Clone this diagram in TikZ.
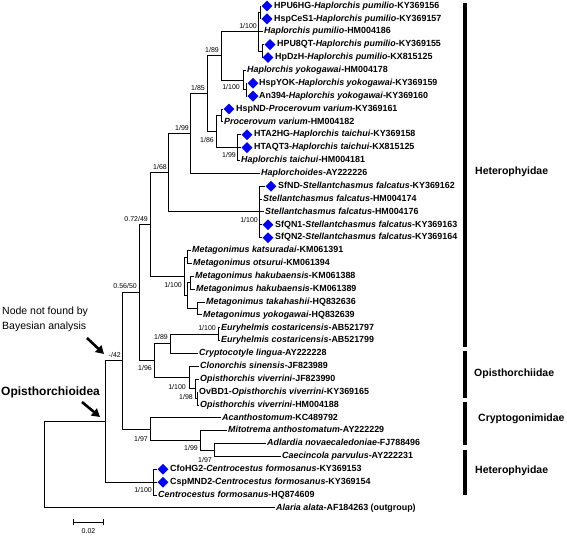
\documentclass[tikz,border=0pt]{standalone}
\usepackage{fontspec}
\setmainfont{Liberation Sans}
\usetikzlibrary{arrows.meta,shapes.geometric}

\begin{document}
\begin{tikzpicture}[
      x=1pt,y=-1pt,
      branch/.style={draw=black,line width=0.9pt},
      leaf/.style={
         anchor=west,
         inner sep=1pt,
         text height=6.4pt,
         text depth=1.9pt,
         font=\bfseries\fontsize{8.9}{10}\selectfont},
      mk/.style={
         diamond,
         fill=blue,
         inner sep=0pt,
         minimum size=11pt},
      supp/.style={
         anchor=east,
         inner sep=0pt,
         font=\fontsize{7}{8}\selectfont},
      clade/.style={
         anchor=west,
         inner sep=0pt,
         font=\bfseries\fontsize{10.5}{12}\selectfont},
      cladebar/.style={line width=4pt},
      bigarrow/.style={line width=2.6pt,-{Triangle[length=8pt,width=9pt]}}
      ]
      \useasboundingbox (0,0) rectangle (567,539);

      % internal nodes of the tree
      \coordinate (root) at (44,464.7);
      \coordinate (opis) at (105,421.5);
      \coordinate (n42) at (122,360.9);
      \coordinate (n5650) at (139,292.6);
      \coordinate (n7249) at (150,224.5);
      \coordinate (n168) at (168,172.7);
      \coordinate (n199) at (190,133.5);
      \coordinate (n185) at (207,93.7);
      \coordinate (n189) at (221,55.9);
      \coordinate (pum) at (258,31.7);
      \coordinate (puma) at (260,12.4);
      \coordinate (pumb) at (262,51.0);
      \coordinate (yok) at (243,80.0);
      \coordinate (yokb) at (246,89.7);
      \coordinate (n186) at (216,131.5);
      \coordinate (proc) at (221,115.4);
      \coordinate (tai) at (237,147.6);
      \coordinate (stel) at (259,211.9);
      \coordinate (meta) at (184,276.3);
      \coordinate (metako) at (187,257.0);
      \coordinate (metac) at (187,295.6);
      \coordinate (metah) at (190,282.7);
      \coordinate (metaty) at (197,308.4);
      \coordinate (n196) at (154,360.7);
      \coordinate (n189b) at (170,343.8);
      \coordinate (eury) at (218,334.2);
      \coordinate (opi) at (189,377.6);
      \coordinate (opisv) at (195,388.9);
      \coordinate (opisvb) at (197,398.5);
      \coordinate (n197) at (150,429.1);
      \coordinate (n199c) at (200,440.4);
      \coordinate (n197b) at (214,450.0);
      \coordinate (cent) at (153,482.2);

      % leaves
      \node[mk] (mkhpu6hg) at (267,6) {};
      \node[leaf] (hpu6hg) at (273,6) {HPU6HG-\textit{Haplorchis pumilio}-KY369156};
      \node[mk] (mkhspces1) at (267,18.9) {};
      \node[leaf] (hspces1) at (273,18.9) {HspCeS1-\textit{Haplorchis pumilio}-KY369157};
      \node[leaf] (hpum) at (263,31.7) {\textit{Haplorchis pumilio}-HM004186};
      \node[mk] (mkhpu8qt) at (270,44.6) {};
      \node[leaf] (hpu8qt) at (276,44.6) {HPU8QT-\textit{Haplorchis pumilio}-KY369155};
      \node[mk] (mkhpdzh) at (268,57.5) {};
      \node[leaf] (hpdzh) at (274,57.5) {HpDzH-\textit{Haplorchis pumilio}-KX815125};
      \node[leaf] (hyok) at (246,70.4) {\textit{Haplorchis yokogawai}-HM004178};
      \node[mk] (mkhspyok) at (253,83.2) {};
      \node[leaf] (hspyok) at (258,83.2) {HspYOK-\textit{Haplorchis yokogawai}-KY369159};
      \node[mk] (mkan394) at (253,96.1) {};
      \node[leaf] (an394) at (258,96.1) {An394-\textit{Haplorchis yokogawai}-KY369160};
      \node[mk] (mkhspnd) at (229,109) {};
      \node[leaf] (hspnd) at (235,109) {HspND-\textit{Procerovum varium}-KY369161};
      \node[leaf] (pvar) at (223,121.8) {\textit{Procerovum varium}-HM004182};
      \node[mk] (mkhta2hg) at (247,134.7) {};
      \node[leaf] (hta2hg) at (253,134.7) {HTA2HG-\textit{Haplorchis taichui}-KY369158};
      \node[mk] (mkhtaqt3) at (247,147.6) {};
      \node[leaf] (htaqt3) at (253,147.6) {HTAQT3-\textit{Haplorchis taichui}-KX815125};
      \node[leaf] (htai) at (240,160.4) {\textit{Haplorchis taichui}-HM004181};
      \node[leaf] (hoides) at (260,173.3) {\textit{Haplorchoides}-AY222226};
      \node[mk] (mksfnd) at (271,186.2) {};
      \node[leaf] (sfnd) at (277,186.2) {SfND-\textit{Stellantchasmus falcatus}-KY369162};
      \node[leaf] (sf174) at (262,199.1) {\textit{Stellantchasmus falcatus}-HM004174};
      \node[leaf] (sf176) at (264,211.9) {\textit{Stellantchasmus falcatus}-HM004176};
      \node[mk] (mksfqn1) at (268,224.8) {};
      \node[leaf] (sfqn1) at (274,224.8) {SfQN1-\textit{Stellantchasmus falcatus}-KY369163};
      \node[mk] (mksfqn2) at (268,237.7) {};
      \node[leaf] (sfqn2) at (274,237.7) {SfQN2-\textit{Stellantchasmus falcatus}-KY369164};
      \node[leaf] (mkat) at (191,250.5) {\textit{Metagonimus katsuradai}-KM061391};
      \node[leaf] (mots) at (192,263.4) {\textit{Metagonimus otsurui}-KM061394};
      \node[leaf] (mhak1) at (194,276.3) {\textit{Metagonimus hakubaensis}-KM061388};
      \node[leaf] (mhak2) at (195,289.1) {\textit{Metagonimus hakubaensis}-KM061389};
      \node[leaf] (mtak) at (205,302) {\textit{Metagonimus takahashii}-HQ832636};
      \node[leaf] (myok) at (202,314.9) {\textit{Metagonimus yokogawai}-HQ832639};
      \node[leaf] (eur1) at (220,327.8) {\textit{Euryhelmis costaricensis}-AB521797};
      \node[leaf] (eur2) at (220,340.6) {\textit{Euryhelmis costaricensis}-AB521799};
      \node[leaf] (cling) at (198,353.5) {\textit{Cryptocotyle lingua}-AY222228};
      \node[leaf] (csin) at (199,366.4) {\textit{Clonorchis sinensis}-JF823989};
      \node[leaf] (oviv1) at (199,379.2) {\textit{Opisthorchis viverrini}-JF823990};
      \node[leaf] (ovbd1) at (198,392.1) {OvBD1-\textit{Opisthorchis viverrini}-KY369165};
      \node[leaf] (oviv2) at (199,405) {\textit{Opisthorchis viverrini}-HM004188};
      \node[leaf] (acan) at (221,417.8) {\textit{Acanthostomum}-KC489792};
      \node[leaf] (mito) at (227,430.7) {\textit{Mitotrema anthostomatum}-AY222229};
      \node[leaf] (adla) at (266,443.6) {\textit{Adlardia novaecaledoniae}-FJ788496};
      \node[leaf] (caec) at (281,456.5) {\textit{Caecincola parvulus}-AY222231};
      \node[mk] (mkcfohg2) at (163,469.3) {};
      \node[leaf] (cfohg2) at (169,469.3) {CfoHG2-\textit{Centrocestus formosanus}-KY369153};
      \node[mk] (mkcspmnd2) at (163,482.2) {};
      \node[leaf] (cspmnd2) at (169,482.2) {CspMND2-\textit{Centrocestus formosanus}-KY369154};
      \node[leaf] (cfor) at (157,495.1) {\textit{Centrocestus formosanus}-HQ874609};
      \node[leaf] (alaria) at (275,507.9) {\textit{Alaria alata}-AF184263 (outgroup)};

      % branches
      \foreach \p/\c in {
        root/opis, root/alaria,
        opis/n42, opis/cent,
        n42/n5650, n42/n197,
        n5650/n7249, n5650/n196,
        n7249/n168, n7249/meta,
        n168/n199, n168/stel,
        n199/n185, n199/hoides,
        n185/n189, n185/n186,
        n189/pum, n189/yok,
        pum/puma, pum/hpum, pum/pumb,
        puma/mkhpu6hg, puma/mkhspces1,
        pumb/mkhpu8qt, pumb/mkhpdzh,
        yok/hyok, yok/yokb,
        yokb/mkhspyok, yokb/mkan394,
        n186/proc, n186/tai,
        proc/mkhspnd, proc/pvar,
        tai/mkhta2hg, tai/mkhtaqt3, tai/htai,
        stel/mksfnd, stel/sf174, stel/sf176, stel/mksfqn1, stel/mksfqn2,
        meta/metako, meta/metac,
        metako/mkat, metako/mots,
        metac/metah, metac/metaty,
        metah/mhak1, metah/mhak2,
        metaty/mtak, metaty/myok,
        n196/n189b, n196/opi,
        n189b/eury, n189b/cling,
        eury/eur1, eury/eur2,
        opi/csin, opi/opisv,
        opisv/oviv1, opisv/opisvb,
        opisvb/ovbd1, opisvb/oviv2,
        n197/acan, n197/n199c,
        n199c/mito, n199c/n197b,
        n197b/adla, n197b/caec,
        cent/mkcfohg2, cent/mkcspmnd2, cent/cfor}
       \draw[branch] (\p) |- (\c);

      % support values
      \foreach \n/\x/\y/\t in {
        pum/257/26/{1/100},
        n189/219/50/{1/89},
        yok/240/87/{1/100},
        n185/205/88/{1/85},
        n199/189/128/{1/99},
        n186/214/140/{1/86},
        tai/236/155/{1/99},
        n168/167/167/{1/68},
        stel/258/220/{1/100},
        n7249/148/219/{0.72/49},
        meta/182/285/{1/100},
        n5650/137/286/{0.56/50},
        eury/216/328/{1/100},
        n189b/168/337/{1/89},
        n42/121/355/{-/42},
        n196/152/368/{1/96},
        opi/186/387/{1/100},
        opisv/193/397/{1/98},
        n197/148/439/{1/97},
        n199c/198/448/{1/99},
        n197b/212/460/{1/97},
        cent/152/490/{1/100}}
       \node[supp] (s\n) at (\x,\y) {\t};

      % families
      \draw[cladebar] (465,3) -- (465,347);
      \draw[cladebar] (465,351) -- (465,398);
      \draw[cladebar] (465,402) -- (465,445);
      \draw[cladebar] (465,450) -- (465,495);
      \node[clade] (het1) at (475,172) {Heterophyidae};
      \node[clade] (opisfam) at (474,374) {Opisthorchiidae};
      \node[clade] (crypfam) at (478,419) {Cryptogonimidae};
      \node[clade] (het2) at (475,471) {Heterophyidae};

      % notes and arrows
      \node[anchor=west,align=left,inner sep=0pt,
            font=\fontsize{10.5}{15}\selectfont] (note) at (2,319.5)
            {Node not found by\\Bayesian analysis};
      \node[anchor=west,inner sep=0pt,
            font=\bfseries\fontsize{12}{14}\selectfont] (superfam) at (1,392)
            {Opisthorchioidea};
      \coordinate (a1s) at (87,338);
      \coordinate (a1e) at (104,354);
      \coordinate (a2s) at (82,402);
      \coordinate (a2e) at (100,417);
      \draw[bigarrow] (a1s) -- (a1e);
      \draw[bigarrow] (a2s) -- (a2e);

      % scale bar
      \coordinate (sb1) at (73,522);
      \coordinate (sb2) at (104,522);
      \draw[line width=0.8pt,|-|] (sb1) -- (sb2);
      \node[supp,anchor=north] (sblab) at (88.5,528) {0.02};
\end{tikzpicture}
\end{document}
